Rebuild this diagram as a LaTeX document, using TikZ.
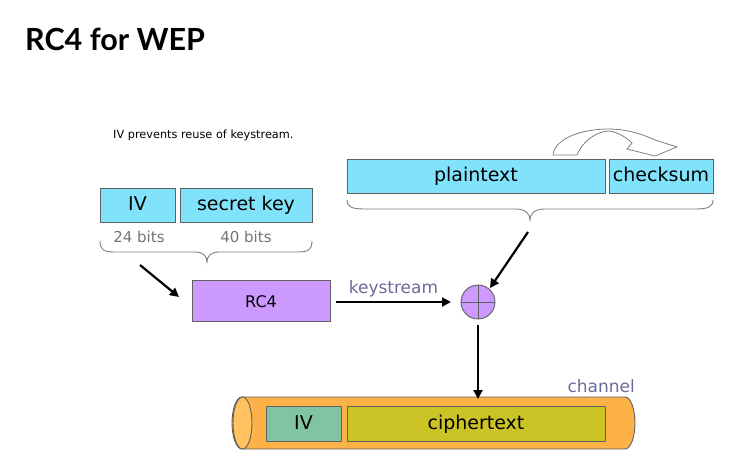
\documentclass[tikz,border=0pt]{standalone}
\usepackage{fontspec}
\setmainfont{DejaVu Sans}
\newfontfamily\titlefont{Lato}
\usetikzlibrary{arrows.meta}
\definecolor{boxcyan}{HTML}{80E2FB}
\definecolor{boxpurple}{HTML}{CC99FF}
\definecolor{cylorange}{HTML}{FDB247}
\definecolor{cylend}{HTML}{FFC25E}
\definecolor{ivteal}{HTML}{80C4A2}
\definecolor{cipherolive}{HTML}{CCC326}
\definecolor{labelpurple}{HTML}{6A6A9E}
\definecolor{edgegray}{HTML}{606060}
\tikzset{
  box/.style={draw=edgegray, line width=0.9pt, inner sep=0pt, text=black, text height=14pt, text depth=3pt},
  cyanbox/.style={box, fill=boxcyan, font=\fontsize{19}{22}\selectfont},
  arr/.style={line width=2.2pt, -{Triangle[length=9pt,width=9pt]}},
  bracestyle/.style={draw=gray, line width=0.9pt},
  lbl/.style={text=labelpurple, font=\fontsize{17}{20}\selectfont},
}
\begin{document}
\begin{tikzpicture}[x=1pt,y=-1pt]
\useasboundingbox (0,0) rectangle (755,472);
\node[anchor=base west, font=\titlefont\bfseries\fontsize{30.5}{30}\selectfont, inner sep=0pt] (title) at (25,50) {RC4 for WEP};
\node[anchor=west, font=\fontsize{11.3}{13}\selectfont, inner sep=0pt] (note) at (113,135) {IV prevents reuse of keystream.};
% key boxes
\node[cyanbox, minimum width=75pt, minimum height=34pt] (iv) at (137.5,205) {IV};
\node[cyanbox, minimum width=132pt, minimum height=34pt] (key) at (246,205) {secret key};
\node[text=gray!90!black, font=\fontsize{15}{18}\selectfont] (b24) at (139,237) {24 bits};
\node[text=gray!90!black, font=\fontsize{15}{18}\selectfont] (b40) at (246,237) {40 bits};
\path[bracestyle] (100,241) .. controls (100,250) and (104,252) .. (115,252) -- (195,252) .. controls (203,252) and (207,256) .. (207,262) .. controls (207,256) and (211,252) .. (219,252) -- (297,252) .. controls (308,252) and (312,250) .. (312,241);
% plaintext
\node[cyanbox, minimum width=258pt, minimum height=34pt] (plain) at (476,176) {plaintext};
\node[cyanbox, minimum width=104pt, minimum height=34pt] (check) at (661,176) {checksum};
\path[bracestyle] (347,200) .. controls (347,207) and (352,209) .. (365,209) -- (515,209) .. controls (526,209) and (530,214) .. (530,220) .. controls (530,214) and (534,209) .. (545,209) -- (695,209) .. controls (708,209) and (713,207) .. (713,200);
% curved block arrow
\draw[draw=gray, fill=white, line width=0.8pt] (553,155) -- (577,155) .. controls (583,140) and (598,131) .. (609,131) .. controls (618,132) and (627,138) .. (632,143) -- (627,149) -- (655,156) -- (677,147) -- (655,140) .. controls (640,133) and (625,129) .. (608,129) .. controls (585,129) and (555,137) .. (553,155) -- cycle;
% RC4 and xor
\node[box, fill=boxpurple, minimum width=138pt, minimum height=41pt, font=\fontsize{16}{19}\selectfont, text height=12pt, text depth=0pt] (rc4) at (261,301) {RC4};
\node[draw=edgegray, line width=0.9pt, fill=boxpurple, circle, minimum size=34pt, inner sep=0pt] (xor) at (478,302) {};
\draw[edgegray, line width=0.9pt] (xor.north) -- (xor.south) (xor.west) -- (xor.east);
\coordinate (a1s) at (140,265);
\coordinate (a1e) at (179,297);
\draw[arr] (a1s) -- (a1e);
\coordinate (a2s) at (528,232);
\coordinate (a2e) at (490,288);
\draw[arr] (a2s) -- (a2e);
\coordinate (kss) at (336,302);
\coordinate (kse) at (451,302);
\draw[arr] (kss) -- (kse) node[lbl, midway, above=1pt] (ks) {keystream};
% cylinder
\path[fill=cylorange, draw=edgegray, line width=0.9pt] (242,397) -- (625,397) .. controls (630.5,397) and (635,408.6) .. (635,423) .. controls (635,437.4) and (630.5,449) .. (625,449) -- (242,449) .. controls (236.5,449) and (232,437.4) .. (232,423) .. controls (232,408.6) and (236.5,397) .. (242,397) -- cycle;
\draw[fill=cylend, draw=edgegray, line width=0.9pt] (242.5,423) ellipse [x radius=9.5pt, y radius=26pt];
\node[box, fill=ivteal, minimum width=75pt, minimum height=35pt, font=\fontsize{19}{22}\selectfont] (ivc) at (303.5,423.5) {IV};
\node[box, fill=cipherolive, minimum width=258pt, minimum height=35pt, font=\fontsize{19}{22}\selectfont] (cipher) at (476,423.5) {ciphertext};
\node[lbl, anchor=east, inner sep=0pt] (chan) at (635,386) {channel};
\coordinate (a3e) at (478,399);
\draw[arr] ([yshift=-6pt]xor.south) -- (a3e);
\end{tikzpicture}
\end{document}
